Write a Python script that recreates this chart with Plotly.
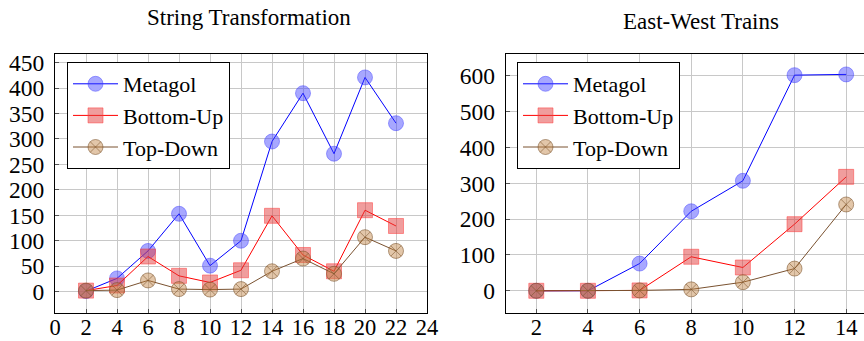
import plotly.graph_objects as go

# String Transformation
st_x = [2, 4, 6, 8, 10, 12, 14, 16, 18, 20, 22]
st_metagol = [1, 26, 80, 153, 51, 100, 295, 390, 271, 421, 331]
st_bottomup = [2, 12, 69, 31, 18, 42, 149, 72, 40, 160, 129]
st_topdown = [2, 3, 22, 5, 4, 5, 40, 65, 35, 107, 80]

# East-West Trains
ew_x = [2, 4, 6, 8, 10, 12, 14]
ew_metagol = [0, 0, 76, 222, 307, 602, 604]
ew_bottomup = [0, 0, 1, 95, 65, 186, 318]
ew_topdown = [0, 0, 1, 4, 24, 62, 241]

left_xticks = list(range(0, 25, 2))
right_xticks = list(range(2, 15, 2))
left_yticks = list(range(0, 451, 50))
right_yticks = list(range(0, 601, 100))

W, H = 864, 341
FONT = "Liberation Serif"
TICK_SIZE = 23.5
XTICK_SIZE = 22.5
LEG_SIZE = 22

series_style = {
    "Metagol": dict(line=dict(color="#0000ff", width=1),
                    marker=dict(symbol="circle", size=15, color="rgba(60,60,255,0.45)",
                                line=dict(color="rgba(60,60,255,0.45)", width=1))),
    "Bottom-Up": dict(line=dict(color="#ff0000", width=1),
                      marker=dict(symbol="square", size=15, color="rgba(225,60,60,0.5)",
                                  line=dict(color="rgba(255,60,60,0.5)", width=1))),
    "Top-Down": dict(line=dict(color="#7a5230", width=1),
                     marker=dict(symbol="circle-x", size=15, color="rgba(191,128,64,0.45)",
                                 line=dict(color="rgba(120,80,40,0.55)", width=1))),
}

fig = go.Figure()
for name, ys in [("Metagol", st_metagol), ("Bottom-Up", st_bottomup), ("Top-Down", st_topdown)]:
    fig.add_trace(go.Scatter(x=st_x, y=ys, name=name, mode="lines+markers",
                             xaxis="x", yaxis="y", legend="legend", **series_style[name]))
for name, ys in [("Metagol", ew_metagol), ("Bottom-Up", ew_bottomup), ("Top-Down", ew_topdown)]:
    fig.add_trace(go.Scatter(x=ew_x, y=ys, name=name, mode="lines+markers",
                             xaxis="x2", yaxis="y2", legend="legend2", **series_style[name]))

def px_x(p):
    return p / W

def px_y(p):
    return 1 - p / H

axis_common = dict(showgrid=True, gridcolor="#c8c8c8", gridwidth=1, zeroline=False,
                   showline=True, linecolor="black", linewidth=1, automargin=False,
                   ticks="inside", ticklen=4, tickcolor="#555")
yfont = dict(tickfont=dict(family=FONT, size=TICK_SIZE, color="black"))
xfont = dict(tickfont=dict(family=FONT, size=XTICK_SIZE, color="black"))

fig.update_layout(
    width=W, height=H, margin=dict(l=0, r=0, t=0, b=0, autoexpand=False),
    plot_bgcolor="white", paper_bgcolor="white",
    font=dict(family=FONT, size=TICK_SIZE, color="black"),
    xaxis=dict(domain=[px_x(55), px_x(427)], range=[0, 24], tickvals=left_xticks,
               mirror=True, anchor="y", ticklabelstandoff=-6, **axis_common, **xfont),
    yaxis=dict(domain=[px_y(313), px_y(54)], range=[-42, 467], tickvals=left_yticks,
               mirror=True, anchor="x", ticklabelstandoff=5, **axis_common, **yfont),
    xaxis2=dict(domain=[px_x(505.7), 1.0], range=[0.815, 14.69], tickvals=right_xticks,
                mirror=True, anchor="y2", ticklabelstandoff=-6, **axis_common, **xfont),
    yaxis2=dict(domain=[px_y(313), px_y(54)], range=[-62, 661], tickvals=right_yticks,
                mirror=False, anchor="x2", ticklabelstandoff=5, **axis_common, **yfont),
    legend=dict(x=px_x(67), y=px_y(62), xanchor="left", yanchor="top",
                bordercolor="black", borderwidth=1, bgcolor="white",
                font=dict(family=FONT, size=LEG_SIZE), itemwidth=45, tracegroupgap=0),
    legend2=dict(x=px_x(517), y=px_y(62), xanchor="left", yanchor="top",
                 bordercolor="black", borderwidth=1, bgcolor="white",
                 font=dict(family=FONT, size=LEG_SIZE), itemwidth=45, tracegroupgap=0),
    annotations=[
        dict(text="String Transformation", x=px_x(249), y=px_y(18), xref="paper", yref="paper",
             showarrow=False, font=dict(family=FONT, size=23), xanchor="center", yanchor="middle"),
        dict(text="East-West Trains", x=px_x(701), y=px_y(22), xref="paper", yref="paper",
             showarrow=False, font=dict(family=FONT, size=23), xanchor="center", yanchor="middle"),
    ],
)

fig.write_html("out.html", config={"displayModeBar": False},
               post_script="document.body.style.margin='0';document.body.style.overflow='hidden';")
